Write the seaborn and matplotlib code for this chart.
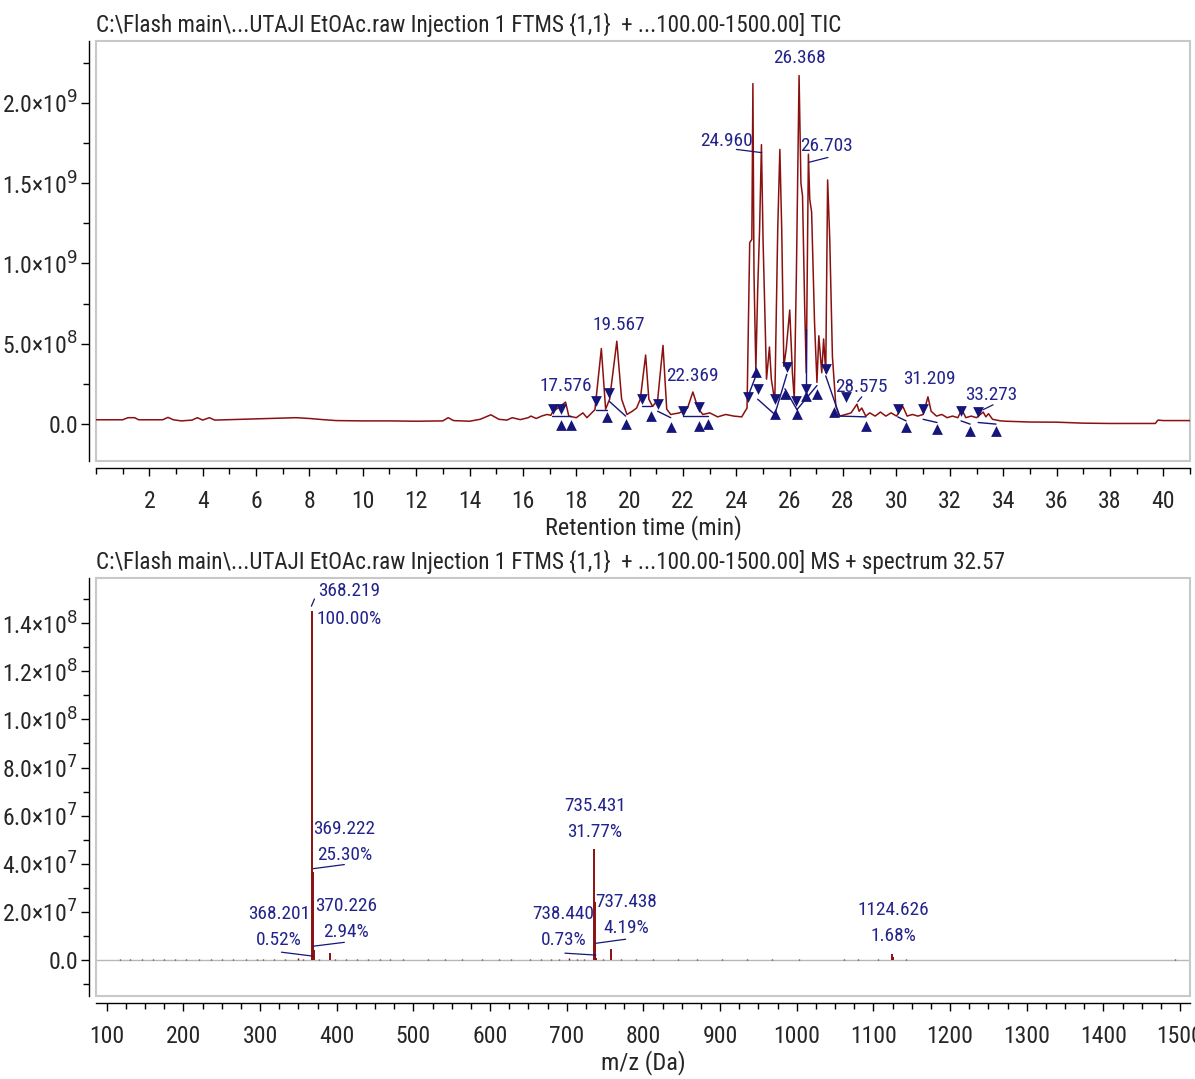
import numpy as np
import matplotlib
matplotlib.use("Agg")
import matplotlib.pyplot as plt
import matplotlib.ticker as mticker
import matplotlib.font_manager as fm
from matplotlib.patches import Rectangle
import seaborn as sns

# TIC trace: retention time (min), intensity (x1e9)
tic_time = [0.0, 1.0, 1.2, 1.45, 1.6, 2.5, 2.7, 2.9, 3.2, 3.6, 3.8, 4.0, 4.25, 4.45,
            5.5, 6.5, 7.5, 8.0, 8.5, 9.0, 10.0, 11.0, 12.0, 13.0, 13.2, 13.4, 14.0,
            14.4, 14.8, 15.1, 15.4, 15.6, 15.9, 16.2, 16.3, 16.5, 16.7, 16.9, 17.05,
            17.11, 17.6, 17.72, 18.0, 18.25, 18.4, 18.7, 18.94, 19.1, 19.25, 19.52,
            19.7, 19.9, 20.1, 20.26, 20.4, 20.6, 20.72, 20.86, 21.05, 21.25, 21.39,
            21.54, 21.87, 22.17, 22.37, 22.56, 22.74, 23.0, 23.3, 23.6, 23.9, 24.2,
            24.4, 24.5, 24.58, 24.62, 24.66, 24.73, 24.8, 24.87, 24.94, 25.0, 25.13,
            25.24, 25.31, 25.44, 25.55, 25.63, 25.7, 25.78, 25.87, 26.0, 26.1, 26.17,
            26.25, 26.35, 26.42, 26.48, 26.56, 26.62, 26.7, 26.75, 26.82, 26.93,
            27.02, 27.09, 27.2, 27.27, 27.35, 27.42, 27.5, 27.6, 27.73, 27.87, 28.1,
            28.3, 28.52, 28.6, 28.7, 28.85, 29.0, 29.2, 29.4, 29.6, 29.8, 30.0, 30.24,
            30.4, 30.6, 30.8, 31.0, 31.18, 31.3, 31.5, 31.7, 31.9, 32.1, 32.3, 32.45,
            32.6, 32.8, 33.0, 33.25, 33.35, 33.45, 33.6, 33.9, 34.1, 35.0, 36.0, 37.0,
            38.0, 39.7, 39.8, 40.0, 41.0]
tic_int = [0.027, 0.027, 0.040, 0.040, 0.027, 0.027, 0.042, 0.027, 0.020, 0.025, 0.040,
           0.025, 0.040, 0.025, 0.030, 0.035, 0.040, 0.035, 0.028, 0.022, 0.020, 0.020,
           0.018, 0.020, 0.040, 0.022, 0.018, 0.030, 0.058, 0.030, 0.025, 0.040, 0.028,
           0.040, 0.050, 0.035, 0.050, 0.060, 0.055, 0.075, 0.137, 0.050, 0.040, 0.070,
           0.040, 0.090, 0.470, 0.093, 0.155, 0.516, 0.155, 0.060, 0.080, 0.100, 0.155,
           0.430, 0.155, 0.110, 0.150, 0.490, 0.093, 0.060, 0.070, 0.100, 0.200, 0.100,
           0.060, 0.070, 0.045, 0.060, 0.050, 0.045, 0.100, 1.130, 1.150, 2.120, 0.940,
           0.340, 0.840, 1.210, 1.740, 1.150, 0.280, 0.480, 0.280, 0.140, 1.210, 1.710,
           1.210, 0.360, 0.470, 0.710, 0.320, 0.155, 0.940, 2.170, 1.500, 1.420, 0.730,
           0.320, 1.680, 1.400, 1.320, 0.630, 0.260, 0.550, 0.320, 0.530, 0.320, 1.520,
           1.150, 0.420, 0.110, 0.050, 0.060, 0.070, 0.124, 0.080, 0.100, 0.050, 0.070,
           0.050, 0.075, 0.050, 0.070, 0.050, 0.110, 0.050, 0.060, 0.050, 0.060, 0.170,
           0.080, 0.050, 0.060, 0.040, 0.050, 0.040, 0.090, 0.040, 0.050, 0.040, 0.075,
           0.045, 0.065, 0.030, 0.020, 0.018, 0.013, 0.012, 0.006, 0.004, 0.004, 0.025,
           0.022, 0.022]

# integration markers (time, intensity x1e9)
start_t = [17.11, 17.41, 18.73, 19.22, 20.45, 21.05, 21.99, 22.59, 24.43, 24.80, 25.44,
           25.89, 26.23, 26.61, 27.35, 28.10, 30.05, 30.99, 32.42, 33.06]
start_i = [0.093, 0.093, 0.143, 0.193, 0.155, 0.124, 0.081, 0.106, 0.168, 0.217, 0.155,
           0.354, 0.143, 0.217, 0.342, 0.168, 0.093, 0.093, 0.081, 0.075]
end_t = [17.41, 17.79, 19.14, 19.85, 20.79, 21.54, 22.59, 22.93, 24.73, 25.44, 25.82,
         26.27, 26.61, 27.02, 27.65, 28.86, 30.36, 31.52, 32.76, 33.73]
end_i = [-0.006, -0.006, 0.043, 0.0, 0.050, -0.019, -0.012, 0.0, 0.323, 0.062, 0.186,
         0.062, 0.174, 0.186, 0.075, -0.012, -0.019, -0.031, -0.043, -0.043]

# baseline segments drawn by the integrator
base_segs = [((17.1, 0.05), (17.8, 0.05)), ((18.73, 0.09), (19.14, 0.09)),
             ((19.25, 0.14), (19.85, 0.05)), ((20.45, 0.11), (20.79, 0.11)),
             ((21.05, 0.08), (21.54, 0.04)), ((21.99, 0.05), (22.93, 0.05)),
             ((24.43, 0.17), (24.73, 0.30)), ((24.8, 0.155), (25.44, 0.06)),
             ((25.44, 0.06), (25.89, 0.31)), ((25.82, 0.22), (26.27, 0.09)),
             ((26.27, 0.09), (27.02, 0.24)), ((26.61, 0.59), (26.61, 0.22)),
             ((27.35, 0.30), (27.87, 0.05)), ((27.87, 0.05), (28.86, 0.045)),
             ((30.05, 0.045), (30.36, 0.02)), ((31.0, 0.03), (31.52, 0.01)),
             ((32.42, 0.02), (32.76, 0.0)), ((33.06, 0.01), (33.73, 0.0))]

tic_labels = ["26.368", "24.960", "26.703", "19.567", "17.576", "22.369",
              "28.575", "31.209", "33.273"]
tic_label_t = [26.38, 23.62, 27.36, 19.59, 17.6, 22.37, 28.67, 31.22, 33.54]
tic_label_i = [2.28, 1.76, 1.73, 0.62, 0.24, 0.30, 0.23, 0.28, 0.18]
tic_leaders = [((24.0, 1.71), (24.95, 1.69)), ((26.72, 1.63), (27.43, 1.66)),
               ((28.55, 0.14), (28.7, 0.17)), ((33.25, 0.09), (33.62, 0.12))]

# mass spectrum at 32.57 min: m/z, intensity (x1e8)
ms_mz = [368.201, 368.219, 369.222, 370.226, 391.2, 735.431, 736.434, 737.438,
         738.440, 757.4, 1124.626, 1125.6]
ms_int = [0.0075, 1.45, 0.367, 0.0426, 0.030, 0.4607, 0.24, 0.0608, 0.0106,
          0.045, 0.0244, 0.012]
noise_mz = [118, 131, 146, 160, 175, 189, 204, 221, 236, 251, 265, 282, 296, 304,
            318, 333, 349, 356, 377, 398, 412, 427, 441, 456, 470, 487, 519, 541,
            563, 589, 612, 628, 652, 667, 679, 690, 703, 714, 723, 748, 771, 790,
            812, 845, 870, 902, 935, 968, 1003, 1062, 1080, 1106, 1143, 1494]
noise_int = [0.004, 0.003, 0.005, 0.004, 0.003, 0.004, 0.005, 0.003, 0.004, 0.005,
             0.004, 0.006, 0.004, 0.005, 0.006, 0.005, 0.007, 0.006, 0.005, 0.006,
             0.004, 0.005, 0.004, 0.006, 0.004, 0.005, 0.004, 0.005, 0.004, 0.004,
             0.005, 0.004, 0.005, 0.006, 0.005, 0.006, 0.007, 0.006, 0.005, 0.006,
             0.005, 0.004, 0.004, 0.003, 0.004, 0.003, 0.004, 0.003, 0.004, 0.004,
             0.005, 0.004, 0.004, 0.005]

ms_labels = [("368.219", "100.00%", 416.0, 1.533, 1.417),
             ("369.222", "25.30%", 410.0, 0.545, 0.438),
             ("370.226", "2.94%", 412.0, 0.223, 0.116),
             ("368.201", "0.52%", 325.0, 0.190, 0.083),
             ("735.431", "31.77%", 736.7, 0.640, 0.533),
             ("738.440", "0.73%", 696.0, 0.190, 0.083),
             ("737.438", "4.19%", 778.0, 0.240, 0.132),
             ("1124.626", "1.68%", 1126.0, 0.207, 0.099)]
ms_leaders = [((367.0, 1.47), (371.0, 1.50)), ((369.5, 0.38), (410.0, 0.397)),
              ((369.5, 0.058), (410.0, 0.074)), ((328.0, 0.033), (368.2, 0.017)),
              ((697.7, 0.029), (738.0, 0.021)), ((738.0, 0.07), (777.0, 0.087))]

TITLE_TIC = "C:\\Flash main\\...UTAJI EtOAc.raw Injection 1 FTMS {1,1}  + ...100.00-1500.00] TIC"
TITLE_MS = ("C:\\Flash main\\...UTAJI EtOAc.raw Injection 1 FTMS {1,1}  + "
            "...100.00-1500.00] MS + spectrum 32.57")

TRACE = "#8b1010"
NAVY = "#15157a"
LBL = "#23238c"

sns.set_theme(style="ticks")

# pick a narrow sans face if one is installed
names = {f.name for f in fm.fontManager.ttflist}
narrow = None
for cand in ["Liberation Sans Narrow", "Roboto Condensed", "Noto Sans Condensed",
             "DejaVu Sans Condensed", "Open Sans Condensed", "Arial Narrow"]:
    if cand in names:
        narrow = cand
        break
if narrow is None:
    for f in fm.fontManager.ttflist:
        if ("Narrow" in f.name or "Condensed" in f.name) and "Extra" not in f.name:
            narrow = f.name
            break
plt.rcParams["font.family"] = [narrow, "DejaVu Sans"] if narrow else ["DejaVu Sans"]
plt.rcParams["mathtext.fontset"] = "dejavusans"

# scale all text so the header line is as wide as in the reference (744 px)
tmp = plt.figure(figsize=(11.95, 10.79), dpi=100)
probe = tmp.text(0, 0, TITLE_TIC, fontsize=18)
w = probe.get_window_extent(tmp.canvas.get_renderer()).width
plt.close(tmp)
k = min(1.15, 744.0 / w)


def fs(s):
    return s * k


def sci(v, pos):
    if abs(v) < 1e-6:
        return "0.0"
    e = int(np.floor(np.log10(abs(v)) + 1e-9))
    return f"{v / 10 ** e:.1f}×10$^{{{e}}}$"


def style_axes(ax):
    for s in ["top", "right"]:
        ax.spines[s].set_visible(False)
    for s in ["left", "bottom"]:
        ax.spines[s].set_position(("outward", 5))
        ax.spines[s].set_color("black")
        ax.spines[s].set_linewidth(1.0)
    ax.add_patch(Rectangle((0, 0), 1, 1, transform=ax.transAxes, fill=False,
                           edgecolor="#c8c8c8", lw=1.5, clip_on=False))
    ax.tick_params(which="major", direction="out", length=6, width=1,
                   labelsize=fs(18.5), color="black")
    ax.tick_params(which="minor", direction="out", length=4, width=1, color="black")
    ax.tick_params(axis="x", which="major", pad=10)
    ax.tick_params(axis="y", which="major", pad=2)
    ax.yaxis.set_major_formatter(mticker.FuncFormatter(sci))


fig = plt.figure(figsize=(11.95, 10.79), dpi=100)
ax1 = fig.add_axes([0.0803, 0.5727, 0.9155, 0.3893])
ax2 = fig.add_axes([0.0803, 0.0769, 0.9155, 0.3874])

# --- chromatogram ---
t = np.array(tic_time)
y = np.array(tic_int) * 1e9
sns.lineplot(x=t, y=y, ax=ax1, color=TRACE, lw=1.1, sort=False, estimator=None)
for (a, b) in base_segs:
    ax1.plot([a[0], b[0]], [a[1] * 1e9, b[1] * 1e9], color=NAVY, lw=1.0)
sns.scatterplot(x=start_t, y=np.array(start_i) * 1e9, ax=ax1, marker="v", s=60,
                color=NAVY, edgecolor=NAVY, linewidth=0, zorder=5)
sns.scatterplot(x=end_t, y=np.array(end_i) * 1e9, ax=ax1, marker="^", s=60,
                color=NAVY, edgecolor=NAVY, linewidth=0, zorder=5)
for lab, lt, li in zip(tic_labels, tic_label_t, tic_label_i):
    ax1.text(lt, li * 1e9, lab, color=LBL, fontsize=fs(15), ha="center", va="center")
for (a, b) in tic_leaders:
    ax1.plot([a[0], b[0]], [a[1] * 1e9, b[1] * 1e9], color=NAVY, lw=0.9)

ax1.set_xlim(0, 41)
ax1.set_ylim(-0.23e9, 2.385e9)
ax1.xaxis.set_major_locator(mticker.FixedLocator(np.arange(2, 41, 2)))
ax1.xaxis.set_minor_locator(mticker.MultipleLocator(1))
ax1.xaxis.set_major_formatter(mticker.FormatStrFormatter("%d"))
ax1.yaxis.set_major_locator(mticker.MultipleLocator(0.5e9))
ax1.yaxis.set_minor_locator(mticker.MultipleLocator(0.25e9))
style_axes(ax1)
ax1.set_xlabel("Retention time (min)", fontsize=fs(19), labelpad=1)
ax1.set_ylabel("")

# --- mass spectrum ---
ax2.axhline(0, color="#b8b8b8", lw=1.0, zorder=1)
ax2.vlines(noise_mz, 0, np.array(noise_int) * 1e8, color=TRACE, lw=1.0)
ax2.vlines(ms_mz, 0, np.array(ms_int) * 1e8, color=TRACE, lw=1.4)
for num, pct, mx, y1, y2 in ms_labels:
    ax2.text(mx, y1 * 1e8, num, color=LBL, fontsize=fs(15), ha="center", va="center")
    ax2.text(mx, y2 * 1e8, pct, color=LBL, fontsize=fs(15), ha="center", va="center")
for (a, b) in ms_leaders:
    ax2.plot([a[0], b[0]], [a[1] * 1e8, b[1] * 1e8], color=NAVY, lw=0.9)

ax2.set_xlim(86, 1513)
ax2.set_ylim(-0.149e8, 1.587e8)
ax2.xaxis.set_major_locator(mticker.MultipleLocator(100))
ax2.xaxis.set_minor_locator(mticker.MultipleLocator(25))
ax2.xaxis.set_major_formatter(mticker.FormatStrFormatter("%d"))
ax2.yaxis.set_major_locator(mticker.MultipleLocator(0.2e8))
ax2.yaxis.set_minor_locator(mticker.MultipleLocator(0.1e8))
style_axes(ax2)
ax2.set_xlabel("m/z (Da)", fontsize=fs(19), labelpad=1)
ax2.set_ylabel("")

fig.text(96 / 1195, 1 - 25 / 1079, TITLE_TIC, fontsize=fs(18), ha="left", va="center")
fig.text(96 / 1195, 1 - 562 / 1079, TITLE_MS, fontsize=fs(18), ha="left", va="center")

fig.savefig("out.png", dpi=100)
